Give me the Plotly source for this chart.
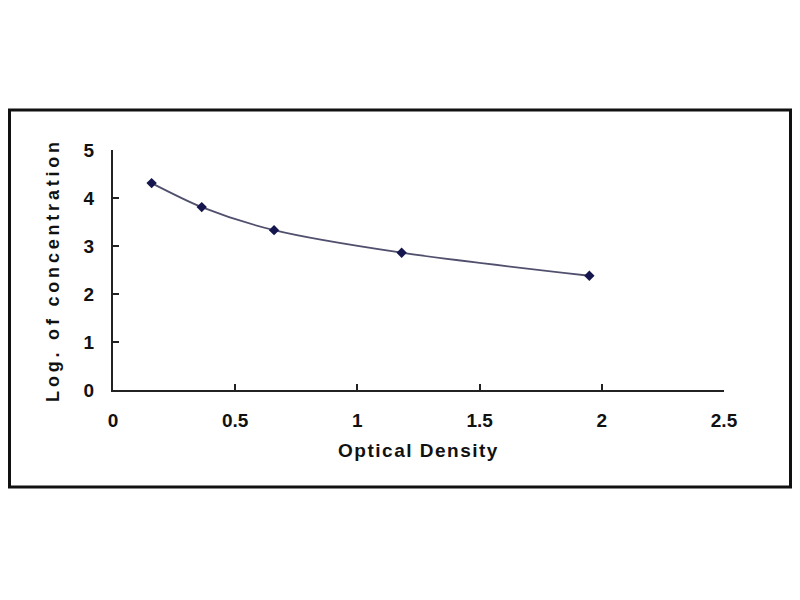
import plotly.graph_objects as go

od = [0.158, 0.363, 0.659, 1.181, 1.949]
log_conc = [4.31, 3.81, 3.33, 2.86, 2.38]

x_ticks = [0, 0.5, 1, 1.5, 2, 2.5]
x_tick_text = ["0", "0.5", "1", "1.5", "2", "2.5"]
y_ticks = [0, 1, 2, 3, 4, 5]

x_title = "Optical Density"
y_title = "Log. of concentration"

FONT = "Liberation Sans"

fig = go.Figure()
fig.add_trace(go.Scatter(
    x=od, y=log_conc, mode="lines+markers",
    line=dict(color="#50506e", width=1.8, shape="spline", smoothing=0.8),
    marker=dict(symbol="diamond", size=8, color="#16164f"),
    showlegend=False,
))

# page is offset by the 8px body margin; keep the page from overflowing
OFF = 8
W, H = 800 - 2 * OFF, 600 - 2 * OFF
L, R, T, B = 113 - OFF, 724 - OFF, 150 - OFF, 390 - OFF
pw, ph = R - L, B - T

fig.update_layout(
    width=W, height=H,
    margin=dict(l=L, r=W - R, t=T, b=H - B),
    paper_bgcolor="white", plot_bgcolor="white",
    font=dict(family=FONT, size=18, color="#111111", weight="bold"),
    xaxis=dict(
        range=[0, 2.5], tickvals=x_ticks, ticktext=x_tick_text,
        showgrid=False, zeroline=False, showline=True, linecolor="#222222", linewidth=2,
        ticks="inside", ticklen=6, tickcolor="#222222", tickwidth=1.5,
        ticklabelstandoff=12,
        tickfont=dict(family=FONT, size=19, weight="bold"),
        title=dict(text='<span style="letter-spacing:1.5px">' + x_title + '</span>',
                   font=dict(family=FONT, size=19, weight="bold"), standoff=14),
    ),
    yaxis=dict(
        range=[0, 5], tickvals=y_ticks,
        showgrid=False, zeroline=False, showline=True, linecolor="#222222", linewidth=2,
        ticks="inside", ticklen=6, tickcolor="#222222", tickwidth=1.5,
        ticklabelstandoff=13,
        tickfont=dict(family=FONT, size=19, weight="bold"),
        title=dict(text='<span style="letter-spacing:3.8px">' + y_title + '</span>',
                   font=dict(family=FONT, size=18, weight="bold"), standoff=19),
    ),
)

# outer frame
x0 = 1.5 / pw - L / pw
x1 = (W - 1.5 - L) / pw
y0 = (B - (487 - OFF)) / ph
y1 = (B - (110 - OFF)) / ph
fig.add_shape(type="rect", xref="paper", yref="paper", x0=x0, x1=x1, y0=y0, y1=y1,
              line=dict(color="#111111", width=3), layer="below")

fig.write_html("out.html")
